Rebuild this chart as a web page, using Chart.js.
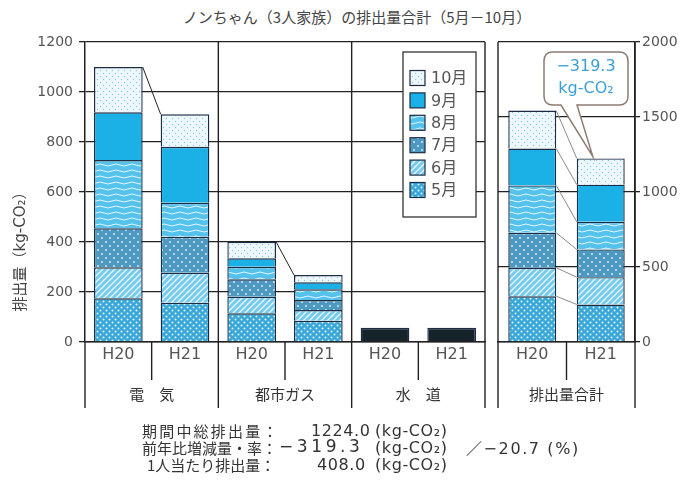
<!DOCTYPE html>
<html>
<head>
<meta charset="utf-8">
<script src="https://cdn.jsdelivr.net/npm/chart.js@4.4.0/dist/chart.umd.min.js"></script>
<style>
body { margin: 0; background: #fff; }
#wrap { position: relative; width: 697px; height: 494px; color: #333; font-family: "DejaVu Sans", "Noto Sans CJK JP", sans-serif; }
#left { position: absolute; left: 0; top: 0; width: 490px; height: 494px; }
#right { position: absolute; left: 490px; top: 0; width: 207px; height: 494px; }
.t { position: absolute; white-space: nowrap; font-size: 15px; line-height: 17px; }
.n { font-size: 16px; letter-spacing: 0.6px; }
.jp { font-family: "Noto Sans CJK JP", sans-serif; }
</style>
</head>
<body>
<div id="wrap">
  <div class="t jp" style="left:0;width:714px;top:8px;text-align:center;color:#444">ノンちゃん（3人家族）の排出量合計（5月－10月）</div>
  <div id="left"><canvas id="chartLeft"></canvas></div>
  <div id="right"><canvas id="chartRight"></canvas></div>

  <div class="t jp" style="left:142px;top:422px;letter-spacing:2.2px">期間中総排出量：</div>
  <div class="t n" style="left:311px;top:422px">1224.0</div>
  <div class="t n" style="left:375px;top:422px">(kg-CO₂)</div>

  <div class="t jp" style="left:142px;top:439px">前年比増減量・率：</div>
  <div class="t n" style="left:279px;top:438px;font-size:17px;letter-spacing:3.6px">−319.3</div>
  <div class="t n" style="left:375px;top:439px">(kg-CO₂)</div>
  <div class="t n" style="left:466px;top:439px;letter-spacing:1.6px"><span class="jp">／</span>−20.7 (%)</div>

  <div class="t jp" style="left:147px;top:456px">1人当たり排出量：</div>
  <div class="t n" style="left:317px;top:456px">408.0</div>
  <div class="t n" style="left:375px;top:456px">(kg-CO₂)</div>
</div>

<script>
// categories
const categories = ['H20', 'H21', 'H20', 'H21', 'H20', 'H21'];
const groupLabels = ['電　気', '都市ガス', '水　道'];
const monthLabels = ['5月', '6月', '7月', '8月', '9月', '10月'];

// monthly values: 電気H20, 電気H21, 都市ガスH20, 都市ガスH21
const may = [175, 157, 115, 85];
const june = [124, 120, 66, 43];
const july = [156, 144, 70, 40];
const august = [273, 136, 50, 43];
const september = [191, 224, 34, 28];
const october = [181, 130, 66, 29];
// 水道 H20, H21
const water = [57, 57];

// 排出量合計 panel, values per month 5月..10月
const totalCategories = ['H20', 'H21'];
const totalLabel = '排出量合計';
const totalH20 = [305, 190, 233, 316, 246, 253];
const totalH21 = [250, 182, 185, 184, 248, 175];
const diffText = ['−319.3', 'kg-CO₂'];

// axes
const leftTicks = [0, 200, 400, 600, 800, 1000, 1200];
const rightTicks = [0, 500, 1000, 1500, 2000];

const family = '"DejaVu Sans", "Noto Sans CJK JP", sans-serif';
const edge = '#1c2c44';

function makePattern(w, h, bg, draw) {
    var c = document.createElement('canvas');
    c.width = w; c.height = h;
    var g = c.getContext('2d');
    g.fillStyle = bg;
    g.fillRect(0, 0, w, h);
    if (draw) draw(g);
    return g.createPattern(c, 'repeat');
}
function dots(pts, r, col) {
    return function (g) {
        g.fillStyle = col;
        pts.forEach(function (p) { g.beginPath(); g.arc(p[0], p[1], r, 0, Math.PI * 2); g.fill(); });
    };
}

var fills = [
    makePattern(6, 6, '#38a7d7', dots([[1.5, 1.5], [4.5, 4.5]], 1, '#e8f8ff')),
    makePattern(6, 6, '#74cbee', function (g) {
        g.strokeStyle = '#e6f7ff'; g.lineWidth = 1.4;
        g.beginPath(); g.moveTo(-1, 7); g.lineTo(7, -1); g.moveTo(-1, 1); g.lineTo(1, -1); g.moveTo(5, 7); g.lineTo(7, 5); g.stroke();
    }),
    makePattern(8, 8, '#4e99c2', dots([[2, 2], [6, 6]], 0.9, '#e4f4fc')),
    makePattern(16, 6, '#55c2ec', function (g) {
        g.strokeStyle = '#e2f6ff'; g.lineWidth = 1;
        g.beginPath(); g.moveTo(0, 3); g.quadraticCurveTo(4, 1, 8, 3); g.quadraticCurveTo(12, 5, 16, 3); g.stroke();
    }),
    '#1bb1e6',
    makePattern(6, 6, '#eef8fc', dots([[1.5, 1.5], [4.5, 4.5]], 0.7, '#86cfe8'))
];

var leftSeries = [may, june, july, august, september, october];

var leftDatasets = monthLabels.map(function (m, i) {
    return {
        label: m,
        data: leftSeries[i].concat([null, null]),
        backgroundColor: fills[i],
        borderColor: edge,
        borderWidth: 1.4,
        stack: 's'
    };
});
leftDatasets.push({
    label: '水道',
    data: [null, null, null, null].concat(water),
    backgroundColor: '#16232b',
    borderColor: edge,
    borderWidth: 1.4,
    stack: 's'
});

var rightDatasets = monthLabels.map(function (m, i) {
    return {
        label: m,
        data: [totalH20[i], totalH21[i]],
        backgroundColor: fills[i],
        borderColor: edge,
        borderWidth: 1.4,
        stack: 's'
    };
});

function line(ctx, x1, y1, x2, y2) {
    ctx.beginPath(); ctx.moveTo(x1, y1); ctx.lineTo(x2, y2); ctx.stroke();
}

// separators under the x axis + group names
function drawSeparators(chart, labels) {
    var ctx = chart.ctx, xs = chart.scales.x, ca = chart.chartArea;
    var n = chart.data.labels.length;
    var half = (xs.getPixelForValue(1) - xs.getPixelForValue(0)) / 2;
    ctx.save();
    ctx.strokeStyle = '#222';
    ctx.lineWidth = 1.4;
    for (var i = 0; i <= n; i++) {
        var x = i === n ? ca.right : (i === 0 ? ca.left : xs.getPixelForValue(i) - half);
        if (i % 2 === 0) {
            line(ctx, x, (i === 0 && chart.scales.y.position === 'left') ? ca.bottom : ca.top, x, 408);
        } else {
            line(ctx, x, ca.bottom, x, 380);
        }
    }
    ctx.fillStyle = '#333';
    ctx.font = '15px ' + family;
    ctx.textAlign = 'center';
    ctx.textBaseline = 'middle';
    labels.forEach(function (t, g) {
        var x = (xs.getPixelForValue(2 * g) + xs.getPixelForValue(2 * g + 1)) / 2;
        ctx.fillText(t, x, 396);
    });
    ctx.restore();
}

const leftPlugin = {
    id: 'leftExtras',
    afterDatasetsDraw(chart) {
        var ctx = chart.ctx;
        var top = chart.getDatasetMeta(5).data;
        ctx.save();
        ctx.strokeStyle = '#222';
        ctx.lineWidth = 1;
        [[0, 1], [2, 3]].forEach(function (p) {
            var a = top[p[0]], b = top[p[1]];
            line(ctx, a.x + a.width / 2, a.y, b.x - b.width / 2, b.y);
        });
        ctx.restore();
    },
    afterDraw(chart) {
        var ctx = chart.ctx;
        drawSeparators(chart, groupLabels);
        // axis title
        ctx.save();
        ctx.translate(21, 248);
        ctx.rotate(-Math.PI / 2);
        ctx.fillStyle = '#444';
        ctx.font = '15px ' + family;
        ctx.textAlign = 'center';
        ctx.textBaseline = 'middle';
        ctx.fillText('排出量（kg-CO₂）', 0, 0);
        ctx.restore();
        // legend, 10月 at the top
        ctx.save();
        ctx.fillStyle = '#fff';
        ctx.fillRect(403, 52, 73, 165);
        ctx.strokeStyle = '#333';
        ctx.lineWidth = 1.3;
        ctx.strokeRect(403, 52, 73, 165);
        ctx.font = '16px ' + family;
        ctx.textBaseline = 'middle';
        for (var k = 0; k < monthLabels.length; k++) {
            var i = monthLabels.length - 1 - k;
            var cy = 78 + k * 22.4;
            ctx.fillStyle = fills[i];
            ctx.fillRect(410, cy - 7.5, 15, 15);
            ctx.strokeStyle = edge;
            ctx.lineWidth = 1.2;
            ctx.strokeRect(410, cy - 7.5, 15, 15);
            ctx.fillStyle = '#555';
            ctx.fillText(monthLabels[i], 431, cy + 1);
        }
        ctx.restore();
    }
};

const rightPlugin = {
    id: 'rightExtras',
    afterDatasetsDraw(chart) {
        var ctx = chart.ctx;
        ctx.save();
        ctx.strokeStyle = '#8a8a8a';
        ctx.lineWidth = 1;
        chart.data.datasets.forEach(function (d, i) {
            var el = chart.getDatasetMeta(i).data;
            line(ctx, el[0].x + el[0].width / 2, el[0].y, el[1].x - el[1].width / 2, el[1].y);
        });
        ctx.restore();
    },
    afterDraw(chart) {
        var ctx = chart.ctx;
        drawSeparators(chart, [totalLabel]);
        // callout
        var b = chart.getDatasetMeta(5).data[1];
        var tipX = b.x - 8, tipY = b.y - 2;
        var l = 54, r = 138, t = 52, btm = 105, rad = 9;
        ctx.save();
        ctx.beginPath();
        ctx.moveTo(l + rad, t);
        ctx.lineTo(r - rad, t);
        ctx.quadraticCurveTo(r, t, r, t + rad);
        ctx.lineTo(r, btm - rad);
        ctx.quadraticCurveTo(r, btm, r - rad, btm);
        ctx.lineTo(87, btm);
        ctx.lineTo(tipX, tipY);
        ctx.lineTo(71, btm);
        ctx.lineTo(l + rad, btm);
        ctx.quadraticCurveTo(l, btm, l, btm - rad);
        ctx.lineTo(l, t + rad);
        ctx.quadraticCurveTo(l, t, l + rad, t);
        ctx.closePath();
        ctx.fillStyle = '#fff';
        ctx.fill();
        ctx.strokeStyle = '#8c7c72';
        ctx.lineWidth = 1.5;
        ctx.stroke();
        ctx.fillStyle = '#3a9fd6';
        ctx.font = '16px ' + family;
        ctx.textAlign = 'center';
        ctx.textBaseline = 'middle';
        ctx.fillText(diffText[0], (l + r) / 2, 67);
        ctx.fillText(diffText[1], (l + r) / 2, 89);
        ctx.restore();
    }
};

function options(ticks, side, yWidth, padding, barPct) {
    return {
        animation: false,
        responsive: true,
        maintainAspectRatio: false,
        layout: { padding: padding },
        datasets: { bar: { categoryPercentage: 1, barPercentage: barPct } },
        plugins: { legend: { display: false }, tooltip: { enabled: false } },
        scales: {
            x: {
                stacked: true,
                grid: { display: false, drawTicks: false },
                border: { display: true, color: '#222', width: 1.5 },
                ticks: { color: '#555', font: { size: 16, family: family }, padding: 3, maxRotation: 0, autoSkip: false },
                afterFit: function (s) { s.height = 70; }
            },
            y: {
                stacked: true,
                position: side,
                min: ticks[0],
                max: ticks[ticks.length - 1],
                ticks: {
                    stepSize: ticks[1] - ticks[0],
                    color: '#555',
                    font: { size: 14, family: family },
                    padding: side === 'left' ? 6 : 2,
                    callback: function (v) { return String(v); }
                },
                grid: { color: '#222', lineWidth: 1.3, tickLength: side === 'left' ? 6 : 5 },
                border: { display: true, color: '#222', width: 1.5 },
                afterFit: function (s) { s.width = yWidth; }
            }
        }
    };
}

new Chart(document.getElementById('chartLeft').getContext('2d'), {
    type: 'bar',
    data: { labels: categories, datasets: leftDatasets },
    options: options(leftTicks, 'left', 79, { top: 42, left: 6, right: 5, bottom: 82 }, 0.73),
    plugins: [leftPlugin]
});

new Chart(document.getElementById('chartRight').getContext('2d'), {
    type: 'bar',
    data: { labels: totalCategories, datasets: rightDatasets },
    options: options(rightTicks, 'right', 55, { top: 42, left: 8, right: 7, bottom: 82 }, 0.70),
    plugins: [rightPlugin]
});
</script>
</body>
</html>
